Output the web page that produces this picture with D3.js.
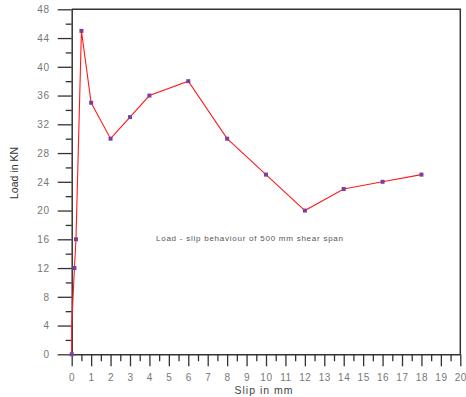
<!DOCTYPE html>
<html>
<head>
<meta charset="utf-8">
<script src="https://cdn.jsdelivr.net/npm/d3@7"></script>
<style>
  html, body { margin: 0; padding: 0; background: #fff; }
  svg { display: block; font-family: "Liberation Sans", Arial, sans-serif; }
</style>
</head>
<body>
<svg id="chart" width="466" height="397"></svg>
<script>
// Load–slip measurements (slip in mm, load in kN)
const slip = [0, 0, 0.14, 0.22, 0.5, 1, 2, 3, 4, 6, 8, 10, 12, 14, 16, 18];
const load = [0, 4, 12, 16, 45, 35, 30, 33, 36, 38, 30, 25, 20, 23, 24, 25];
// whether a point carries a marker
const marked = [true, false, true, true, true, true, true, true, true, true, true, true, true, true, true, true];

const xMajorTicks = d3.range(0, 21, 1);
const xMinorTicks = d3.range(0.5, 20, 1);
const yMajorTicks = d3.range(0, 49, 4);
const yMinorTicks = d3.range(2, 48, 4);

const xTitle = "Slip in mm";
const yTitle = "Load in KN";
const note = "Load - slip behaviour of 500 mm shear span";

const svg = d3.select("#chart");
const plotLeft = 71.7, plotRight = 460.3, plotTop = 9.3, plotBottom = 354.3;

const x = d3.scaleLinear().domain([0, 20]).range([plotLeft, plotRight]);
const y = d3.scaleLinear().domain([0, 48]).range([plotBottom, plotTop]);

const axisColor = "#333";
const labelColor = "#777";

// frame: top and right borders
svg.append("path")
  .attr("d", `M${plotLeft},${plotTop}H${plotRight}V${plotBottom}`)
  .attr("fill", "none").attr("stroke", axisColor).attr("stroke-width", 1.5);

// x axis — major ticks with labels, minor ticks unlabeled
const gx = svg.append("g").attr("transform", `translate(0,${plotBottom})`);
gx.call(d3.axisBottom(x).tickValues(xMajorTicks).tickSize(12).tickSizeOuter(0).tickPadding(8).tickFormat(d3.format("d")));
gx.append("g").call(d3.axisBottom(x).tickValues(xMinorTicks).tickSize(7).tickFormat(""))
  .select(".domain").remove();

// y axis
const gy = svg.append("g").attr("transform", `translate(${plotLeft},0)`);
gy.call(d3.axisLeft(y).tickValues(yMajorTicks).tickSize(14).tickSizeOuter(0).tickPadding(8).tickFormat(d3.format("d")));
gy.append("g").call(d3.axisLeft(y).tickValues(yMinorTicks).tickSize(6).tickFormat(""))
  .select(".domain").remove();

svg.selectAll(".domain").attr("stroke", axisColor).attr("stroke-width", 1.5);
svg.selectAll(".tick line").attr("stroke", axisColor).attr("stroke-width", 1.3);
svg.selectAll(".tick text")
  .attr("fill", labelColor).attr("font-size", 10)
  .attr("font-family", "Liberation Sans, Arial, sans-serif")
  .attr("letter-spacing", 0.6);

// axis titles
svg.append("text")
  .attr("x", 264).attr("y", 394)
  .attr("text-anchor", "middle")
  .attr("font-size", 10.5).attr("letter-spacing", 1)
  .attr("fill", "#444")
  .text(xTitle);

svg.append("text")
  .attr("transform", "translate(18,173) rotate(-90)")
  .attr("text-anchor", "middle")
  .attr("font-size", 10.5)
  .attr("fill", "#333")
  .text(yTitle);

// annotation inside the plot
svg.append("text")
  .attr("x", 156).attr("y", 241)
  .attr("font-size", 8)
  .attr("textLength", 187).attr("lengthAdjust", "spacing")
  .attr("fill", "#555")
  .text(note);

// the series
const pts = slip.map((s, i) => ({ s, l: load[i], m: marked[i] }));

svg.append("path")
  .datum(pts)
  .attr("fill", "none")
  .attr("stroke", "#ff1a1a")
  .attr("stroke-width", 1.1)
  .attr("d", d3.line().x(d => x(d.s)).y(d => y(d.l)));

const ms = 4;
svg.selectAll("rect.mark")
  .data(pts.filter(d => d.m))
  .join("rect")
  .attr("class", "mark")
  .attr("x", d => x(d.s) - ms / 2)
  .attr("y", d => y(d.l) - ms / 2)
  .attr("width", ms).attr("height", ms)
  .attr("fill", "#7b3f9e");
</script>
</body>
</html>
